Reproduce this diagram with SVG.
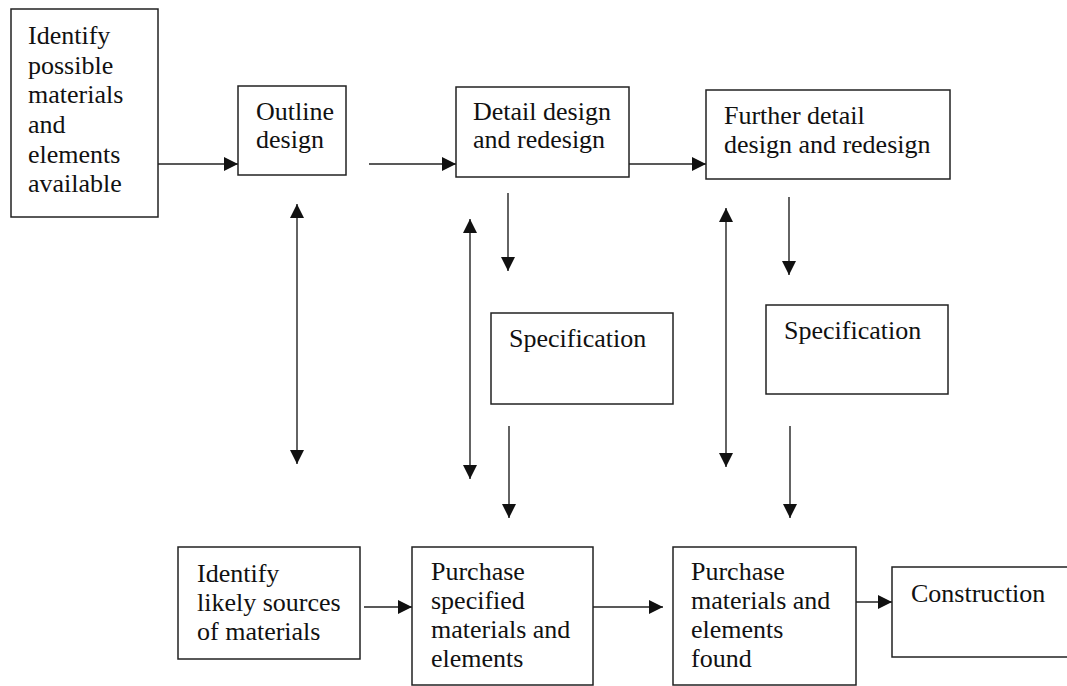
<svg xmlns="http://www.w3.org/2000/svg" width="1067" height="686" viewBox="0 0 1067 686">
  <style>
    .box { fill: #ffffff; stroke: #222222; stroke-width: 1.5; }
    .lbl { font-family: "Liberation Serif", "Times New Roman", serif; font-size: 26px; fill: #111111; }
    .con { fill: none; stroke: #222222; stroke-width: 1.4; }
  </style>
  <defs>
    <marker id="head" viewBox="0 0 10 10" refX="10" refY="5" markerWidth="14" markerHeight="14" markerUnits="userSpaceOnUse" orient="auto-start-reverse">
      <path d="M0,0 L10,5 L0,10 Z" fill="#111111"/>
    </marker>
  </defs>
  <rect width="1067" height="686" fill="#ffffff"/>

  <g id="connectors">
    <!-- top row flow -->
    <line class="con" x1="158" y1="164" x2="238" y2="164" marker-end="url(#head)"/>
    <line class="con" x1="369" y1="164" x2="456" y2="164" marker-end="url(#head)"/>
    <line class="con" x1="629" y1="164" x2="706" y2="164" marker-end="url(#head)"/>
    <!-- design to specification -->
    <line class="con" x1="508" y1="193" x2="508" y2="271" marker-end="url(#head)"/>
    <line class="con" x1="789" y1="197" x2="789" y2="275" marker-end="url(#head)"/>
    <!-- specification to purchase -->
    <line class="con" x1="509" y1="426" x2="509" y2="518" marker-end="url(#head)"/>
    <line class="con" x1="790" y1="426" x2="790" y2="518" marker-end="url(#head)"/>
    <!-- two-way links between design and sourcing -->
    <line class="con" x1="297" y1="204" x2="297" y2="464" marker-start="url(#head)" marker-end="url(#head)"/>
    <line class="con" x1="470" y1="219" x2="470" y2="479" marker-start="url(#head)" marker-end="url(#head)"/>
    <line class="con" x1="726" y1="208" x2="726" y2="467" marker-start="url(#head)" marker-end="url(#head)"/>
    <!-- bottom row flow -->
    <line class="con" x1="364" y1="607" x2="412" y2="607" marker-end="url(#head)"/>
    <line class="con" x1="593" y1="607" x2="663" y2="607" marker-end="url(#head)"/>
    <line class="con" x1="853" y1="602" x2="892" y2="602" marker-end="url(#head)"/>
  </g>

  <g id="identify-materials">
    <rect class="box" x="11" y="9" width="147" height="208"/>
    <text class="lbl" x="28" y="44">Identify</text>
    <text class="lbl" x="28" y="74">possible</text>
    <text class="lbl" x="28" y="103">materials</text>
    <text class="lbl" x="28" y="133">and</text>
    <text class="lbl" x="28" y="163">elements</text>
    <text class="lbl" x="28" y="192">available</text>
  </g>

  <g id="outline-design">
    <rect class="box" x="238" y="86" width="108" height="89"/>
    <text class="lbl" x="256" y="120">Outline</text>
    <text class="lbl" x="256" y="148">design</text>
  </g>

  <g id="detail-design">
    <rect class="box" x="456" y="87" width="173" height="90"/>
    <text class="lbl" x="473" y="120">Detail design</text>
    <text class="lbl" x="473" y="148">and redesign</text>
  </g>

  <g id="further-detail-design">
    <rect class="box" x="706" y="90" width="244" height="89"/>
    <text class="lbl" x="724" y="124">Further detail</text>
    <text class="lbl" x="724" y="153">design and redesign</text>
  </g>

  <g id="specification-1">
    <rect class="box" x="491" y="313" width="182" height="91"/>
    <text class="lbl" x="509" y="347">Specification</text>
  </g>

  <g id="specification-2">
    <rect class="box" x="766" y="305" width="182" height="89"/>
    <text class="lbl" x="784" y="339">Specification</text>
  </g>

  <g id="identify-sources">
    <rect class="box" x="178" y="547" width="182" height="112"/>
    <text class="lbl" x="197" y="582">Identify</text>
    <text class="lbl" x="197" y="611">likely sources</text>
    <text class="lbl" x="197" y="640">of materials</text>
  </g>

  <g id="purchase-specified">
    <rect class="box" x="412" y="547" width="181" height="138"/>
    <text class="lbl" x="431" y="580">Purchase</text>
    <text class="lbl" x="431" y="609">specified</text>
    <text class="lbl" x="431" y="638">materials and</text>
    <text class="lbl" x="431" y="667">elements</text>
  </g>

  <g id="purchase-found">
    <rect class="box" x="673" y="547" width="183" height="138"/>
    <text class="lbl" x="691" y="580">Purchase</text>
    <text class="lbl" x="691" y="609">materials and</text>
    <text class="lbl" x="691" y="638">elements</text>
    <text class="lbl" x="691" y="667">found</text>
  </g>

  <g id="construction">
    <rect class="box" x="892" y="567" width="180" height="90"/>
    <text class="lbl" x="911" y="602">Construction</text>
  </g>
</svg>
